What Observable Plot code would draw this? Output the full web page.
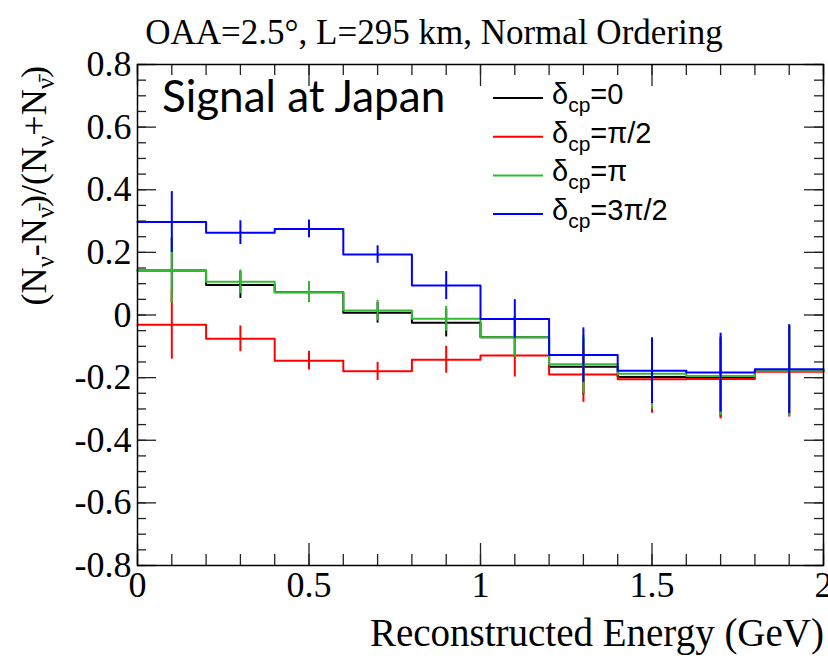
<!DOCTYPE html>
<html>
<head>
<meta charset="utf-8">
<script src="https://cdn.jsdelivr.net/npm/d3@7"></script>
<script src="https://cdn.jsdelivr.net/npm/@observablehq/plot@0.6"></script>
<style>
  html, body { margin: 0; padding: 0; background: #fff; }
  #chart svg { display: block; }
</style>
</head>
<body>
<div id="chart"></div>
<script>
// ---- data ----
const binLow    = [0, 0.2, 0.4, 0.6, 0.8, 1.0, 1.2, 1.4, 1.6, 1.8];
const binHigh   = [0.2, 0.4, 0.6, 0.8, 1.0, 1.2, 1.4, 1.6, 1.8, 2.0];
const binCenter = [0.1, 0.3, 0.5, 0.7, 0.9, 1.1, 1.3, 1.5, 1.7, 1.9];

const seriesNames = ["δcp=0", "δcp=π/2", "δcp=π", "δcp=3π/2"];
const legendValues = ["=0", "=π/2", "=π", "=3π/2"];

const blackVals = [0.142, 0.096, 0.073, 0.007, -0.025, -0.071, -0.165, -0.198, -0.200, -0.178];
const blackErr  = [0.105, 0.043, 0.032, 0.033, 0.045, 0.066, 0.090, 0.110, 0.127, 0.145];
const redVals   = [-0.031, -0.076, -0.146, -0.180, -0.143, -0.129, -0.190, -0.205, -0.204, -0.181];
const redErr    = [0.110, 0.041, 0.030, 0.029, 0.043, 0.069, 0.089, 0.109, 0.128, 0.145];
const greenVals = [0.142, 0.106, 0.073, 0.014, -0.012, -0.071, -0.157, -0.188, -0.195, -0.178];
const greenErr  = [0.105, 0.038, 0.032, 0.033, 0.040, 0.064, 0.093, 0.112, 0.126, 0.145];
const blueVals  = [0.297, 0.263, 0.275, 0.193, 0.094, -0.013, -0.128, -0.178, -0.184, -0.173];
const blueErr   = [0.097, 0.038, 0.028, 0.028, 0.045, 0.062, 0.087, 0.105, 0.126, 0.142];

const colors = ["#000000", "#ff0000", "#33bb33", "#0000ff"];

const xMajor = [0, 0.5, 1, 1.5, 2];
const yMajor = [-0.8, -0.6, -0.4, -0.2, 0, 0.2, 0.4, 0.6, 0.8];
const xMinor = d3.range(0, 2.0001, 0.1).map(v => +v.toFixed(2));
const yMinor = d3.range(-0.8, 0.8001, 0.05).map(v => +v.toFixed(2));

const titleText = "OAA=2.5°, L=295 km, Normal Ordering";
const xTitle = "Reconstructed Energy (GeV)";
const annotation = "Signal at Japan";

// ---- build tables ----
const allVals = [blackVals, redVals, greenVals, blueVals];
const allErr = [blackErr, redErr, greenErr, blueErr];

function stepTable(vals, k) {
  const pts = binLow.map((x, i) => ({x, y: vals[i], s: k}));
  pts.push({x: binHigh[binHigh.length - 1], y: vals[vals.length - 1], s: k});
  return pts;
}
function errTable(vals, errs, k) {
  return binCenter.map((x, i) => ({x, y1: vals[i] - errs[i], y2: vals[i] + errs[i], s: k}));
}

const W = 828, H = 662;
const mL = 137, mR = 5, mT = 64, mB = 97;
const fw = W - mL - mR, fh = H - mT - mB;

const marks = [];
allVals.forEach((vals, k) => {
  marks.push(Plot.ruleX(errTable(vals, allErr[k], k), {x: "x", y1: "y1", y2: "y2", stroke: colors[k], strokeWidth: 2}));
  marks.push(Plot.line(stepTable(vals, k), {x: "x", y: "y", curve: "step-after", stroke: colors[k], strokeWidth: 2}));
});

const tickCol = "#222";
marks.push(
  Plot.tickX(xMajor, {x: d => d, insetTop: fh - 22, stroke: tickCol, strokeWidth: 1.3}),
  Plot.tickX(xMinor, {x: d => d, insetTop: fh - 11, stroke: tickCol, strokeWidth: 1.3}),
  Plot.tickX(xMajor, {x: d => d, insetBottom: fh - 22, stroke: tickCol, strokeWidth: 1.3}),
  Plot.tickX(xMinor, {x: d => d, insetBottom: fh - 11, stroke: tickCol, strokeWidth: 1.3}),
  Plot.tickY(yMajor, {y: d => d, insetRight: fw - 19, stroke: tickCol, strokeWidth: 1.3}),
  Plot.tickY(yMinor, {y: d => d, insetRight: fw - 9, stroke: tickCol, strokeWidth: 1.3}),
  Plot.tickY(yMajor, {y: d => d, insetLeft: fw - 19, stroke: tickCol, strokeWidth: 1.3}),
  Plot.tickY(yMinor, {y: d => d, insetLeft: fw - 9, stroke: tickCol, strokeWidth: 1.3}),
  Plot.frame({stroke: "#000", strokeWidth: 1.5}),
  Plot.axisX({ticks: xMajor, tickSize: 0, tickPadding: 6, fontSize: 36, tickFormat: d => String(d), label: null, fill: "#000"}),
  Plot.axisY({ticks: yMajor, tickSize: 0, tickPadding: 6, fontSize: 36, tickFormat: d => d === 0 ? "0" : d.toFixed(1), label: null, fill: "#000"})
);

const chart = Plot.plot({
  width: W, height: H,
  marginLeft: mL, marginRight: mR, marginTop: mT, marginBottom: mB,
  x: {domain: [0, 2]},
  y: {domain: [-0.8, 0.8]},
  style: {background: "#fff", fontFamily: "'Liberation Serif', serif", color: "#000", overflow: "visible"},
  marks
});
document.getElementById("chart").appendChild(chart);

// ---- annotations ----
const svg = d3.select(chart);
const serif = "'Liberation Serif', serif";
const sans = "'Liberation Sans', Arial, sans-serif";

svg.append("text")
  .attr("x", 434).attr("y", 44)
  .attr("text-anchor", "middle")
  .attr("font-family", serif).attr("font-size", 35).attr("fill", "#000")
  .text(titleText);

svg.append("text")
  .attr("x", 824).attr("y", 646)
  .attr("text-anchor", "end")
  .attr("font-family", serif).attr("font-size", 39).attr("fill", "#000")
  .text(xTitle);

// y axis title, rotated, aligned to top end
const yl = svg.append("text")
  .attr("transform", `translate(46, ${mT + 2}) rotate(-90)`)
  .attr("text-anchor", "end")
  .attr("font-family", serif).attr("font-size", 36).attr("fill", "#000");
const parts = [["(N", 0], ["ν", 1], ["-N", 0], ["ν\u0304", 1], [")/(N", 0], ["ν", 1], ["+N", 0], ["ν\u0304", 1], [")", 0]];
let cur = 0;
parts.forEach(([t, sub]) => {
  const shift = sub ? 8 : 0;
  yl.append("tspan").attr("dy", shift - cur).attr("font-size", sub ? 25 : 36).text(t);
  cur = shift;
});

svg.append("text")
  .attr("x", 162).attr("y", 112)
  .attr("text-anchor", "start")
  .attr("font-family", "Lato, 'Open Sans', sans-serif").attr("font-size", 44).attr("fill", "#000")
  .text(annotation);

// legend
seriesNames.forEach((name, k) => {
  const ly = 98 + 38.7 * k;
  svg.append("line")
    .attr("x1", 493).attr("x2", 543).attr("y1", ly).attr("y2", ly)
    .attr("stroke", colors[k]).attr("stroke-width", 2);
  const t = svg.append("text")
    .attr("x", 552).attr("y", ly + 6)
    .attr("text-anchor", "start")
    .attr("font-family", sans).attr("font-size", 29).attr("fill", "#000");
  t.append("tspan").text("δ");
  t.append("tspan").attr("dy", 8).attr("font-size", 21).text("cp");
  t.append("tspan").attr("dy", -8).text(legendValues[k]);
});
</script>
</body>
</html>
